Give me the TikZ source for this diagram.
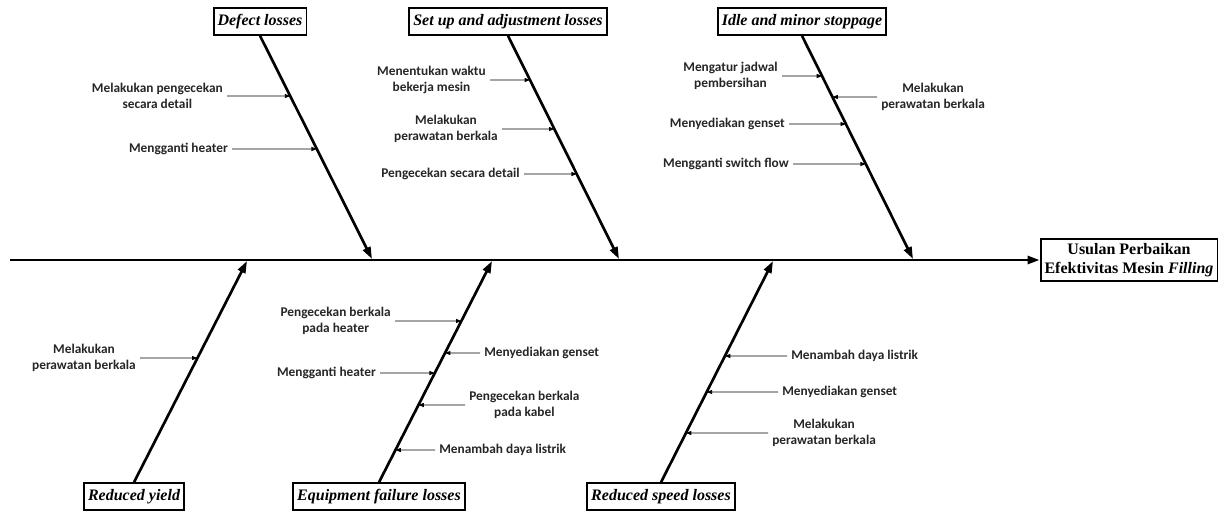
\documentclass[tikz,border=0pt]{standalone}
\usepackage{fontspec}
\setmainfont{Liberation Serif}
\newfontfamily\causefont{Carlito}
\usetikzlibrary{arrows.meta}

\tikzset{
    catbox/.style={draw,line width=1.4pt,minimum height=20pt,inner xsep=3pt,inner ysep=1pt,
        font=\fontsize{12}{14}\selectfont\bfseries\itshape},
    resbox/.style={draw,line width=1.4pt,align=center,inner xsep=3pt,inner ysep=3pt,
        font=\fontsize{12}{14.3}\selectfont\bfseries},
    cause/.style={align=center,inner xsep=3pt,inner ysep=1pt,text=black!85,
        font=\fontsize{10}{12}\selectfont\causefont\bfseries},
    bone/.style={line width=2pt,-{Triangle[length=9pt,width=6pt]}},
    twig/.style={line width=0.6pt,-{Triangle[length=4pt,width=3pt]}},
}

\begin{document}
\begin{tikzpicture}[x=0.75pt,y=-0.75pt]
    \useasboundingbox (0,0) rectangle (1226,511);

    % Result and spine
    \node[resbox] (result) at (1129,260) {Usulan Perbaikan\\Efektivitas Mesin \textit{Filling}};
    \coordinate (tail) at (10,260);
    \draw[line width=2pt,-{Triangle[length=9pt,width=6pt]}] (tail) -- (result.west);

    % Categories
    \node[catbox] (defect) at (260,21.5) {Defect losses};
    \node[catbox] (setup)  at (508,21.5) {Set up and adjustment losses};
    \node[catbox] (idle)   at (802,21.5) {Idle and minor stoppage};
    \node[catbox] (yield)  at (134,496.5) {Reduced yield};
    \node[catbox] (equip)  at (379,496.5) {Equipment failure losses};
    \node[catbox] (speed)  at (661,496.5) {Reduced speed losses};

    \coordinate (defEnd)   at (372,259);
    \coordinate (setEnd)   at (619,259);
    \coordinate (idleEnd)  at (913,259);
    \coordinate (yieldEnd) at (247,261);
    \coordinate (equipEnd) at (492,261);
    \coordinate (speedEnd) at (773,261);

    \draw[bone] (defect.south) -- (defEnd);
    \draw[bone] (setup.south)  -- (setEnd);
    \draw[bone] (idle.south)   -- (idleEnd);
    \draw[bone] (yield.north)  -- (yieldEnd);
    \draw[bone] (equip.north)  -- (equipEnd);
    \draw[bone] (speed.north)  -- (speedEnd);

    % Defect losses
    \node[cause,anchor=east] (d1) at (227,96) {Melakukan pengecekan\\secara detail};
    \node[cause,anchor=east] (d2) at (232,149) {Mengganti heater};
    \foreach \n/\a in {d1/east,d2/east}
        \draw[twig] (\n.\a) -- (intersection of \n.west--\n.east and defect.south--defEnd);

    % Set up and adjustment losses
    \node[cause,anchor=east] (s1) at (490,80) {Menentukan waktu\\bekerja mesin};
    \node[cause,anchor=east] (s2) at (502,129) {Melakukan\\perawatan berkala};
    \node[cause,anchor=east] (s3) at (524,174) {Pengecekan secara detail};
    \foreach \n/\a in {s1/east,s2/east,s3/east}
        \draw[twig] (\n.\a) -- (intersection of \n.west--\n.east and setup.south--setEnd);

    % Idle and minor stoppage
    \node[cause,anchor=east] (i1) at (782,76) {Mengatur jadwal\\pembersihan};
    \node[cause,anchor=west] (i2) at (877,97) {Melakukan\\perawatan berkala};
    \node[cause,anchor=east] (i3) at (789,124) {Menyediakan genset};
    \node[cause,anchor=east] (i4) at (793,164) {Mengganti switch flow};
    \foreach \n/\a in {i1/east,i2/west,i3/east,i4/east}
        \draw[twig] (\n.\a) -- (intersection of \n.west--\n.east and idle.south--idleEnd);

    % Reduced yield
    \node[cause,anchor=east] (y1) at (140,358) {Melakukan\\perawatan berkala};
    \draw[twig] (y1.east) -- (intersection of y1.west--y1.east and yield.north--yieldEnd);

    % Equipment failure losses
    \node[cause,anchor=east] (e1) at (395,321) {Pengecekan berkala\\pada heater};
    \node[cause,anchor=west] (e2) at (480,353) {Menyediakan genset};
    \node[cause,anchor=east] (e3) at (380,373) {Mengganti heater};
    \node[cause,anchor=west] (e4) at (465,405) {Pengecekan berkala\\pada kabel};
    \node[cause,anchor=west] (e5) at (435,450) {Menambah daya listrik};
    \foreach \n/\a in {e1/east,e2/west,e3/east,e4/west,e5/west}
        \draw[twig] (\n.\a) -- (intersection of \n.west--\n.east and equip.north--equipEnd);

    % Reduced speed losses
    \node[cause,anchor=west] (r1) at (787,356) {Menambah daya listrik};
    \node[cause,anchor=west] (r2) at (778,392) {Menyediakan genset};
    \node[cause,anchor=west] (r3) at (768,433) {Melakukan\\perawatan berkala};
    \foreach \n/\a in {r1/west,r2/west,r3/west}
        \draw[twig] (\n.\a) -- (intersection of \n.west--\n.east and speed.north--speedEnd);
\end{tikzpicture}
\end{document}
